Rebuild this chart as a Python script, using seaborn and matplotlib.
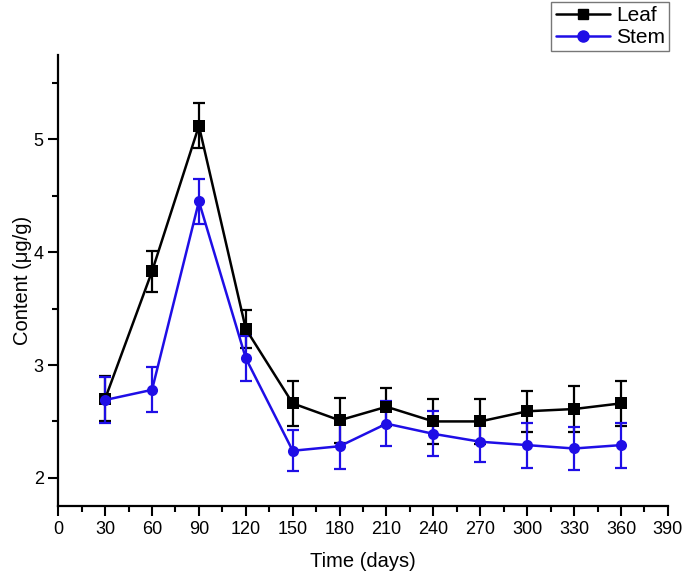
import matplotlib
matplotlib.use("Agg")
import matplotlib.pyplot as plt
import seaborn as sns
import pandas as pd
import numpy as np
from matplotlib.ticker import MultipleLocator
from matplotlib.lines import Line2D

days = [30, 60, 90, 120, 150, 180, 210, 240, 270, 300, 330, 360]
leaf = [2.70, 3.83, 5.12, 3.32, 2.66, 2.51, 2.63, 2.50, 2.50, 2.59, 2.61, 2.66]
leaf_err = [0.20, 0.18, 0.20, 0.17, 0.20, 0.20, 0.17, 0.20, 0.20, 0.18, 0.20, 0.20]
stem = [2.69, 2.78, 4.45, 3.06, 2.24, 2.28, 2.48, 2.39, 2.32, 2.29, 2.26, 2.29]
stem_err = [0.20, 0.20, 0.20, 0.20, 0.18, 0.20, 0.20, 0.20, 0.18, 0.20, 0.19, 0.20]

sns.set_theme(style="ticks")
plt.rcParams["font.family"] = ["Liberation Sans", "DejaVu Sans"]
plt.rcParams["text.color"] = "black"
plt.rcParams["axes.labelcolor"] = "black"
plt.rcParams["xtick.color"] = "black"
plt.rcParams["ytick.color"] = "black"

df = pd.DataFrame({
    "day": days * 2,
    "value": leaf + stem,
    "tissue": ["Leaf"] * len(days) + ["Stem"] * len(days),
})

colors = {"Leaf": "black", "Stem": "#1f0ee6"}

fig = plt.figure(figsize=(6.85, 5.77), dpi=100)
ax = fig.add_axes([0.085, 0.123, 0.890, 0.782])

for name, vals, errs in [("Leaf", leaf, leaf_err), ("Stem", stem, stem_err)]:
    ax.errorbar(days, vals, yerr=errs, fmt="none", ecolor=colors[name],
                elinewidth=1.6, capsize=4, capthick=1.6, zorder=2)

sns.lineplot(data=df, x="day", y="value", hue="tissue", style="tissue",
             markers={"Leaf": "s", "Stem": "o"}, dashes=False,
             palette=colors, markersize=8, markeredgewidth=0,
             linewidth=1.8, ax=ax, legend=False, zorder=3)

ax.set_xlim(0, 390)
ax.set_ylim(1.75, 5.75)
ax.xaxis.set_major_locator(MultipleLocator(30))
ax.xaxis.set_minor_locator(MultipleLocator(15))
ax.yaxis.set_major_locator(MultipleLocator(1))
ax.yaxis.set_minor_locator(MultipleLocator(0.5))
ax.tick_params(which="major", length=7, width=1.5, labelsize=13, direction="out")
ax.tick_params(which="minor", length=4, width=1.5, direction="out")
sns.despine(ax=ax)
for s in ["left", "bottom"]:
    ax.spines[s].set_linewidth(1.6)
    ax.spines[s].set_color("black")

ax.set_xlabel("Time (days)", fontsize=14.5, labelpad=10)
ax.set_ylabel("Content (\u03bcg/g)", fontsize=14.5)
ax.yaxis.set_label_coords(-0.043, 0.5)

handles = [Line2D([], [], color="black", marker="s", markersize=7, linewidth=1.8),
           Line2D([], [], color=colors["Stem"], marker="o", markersize=8, linewidth=1.8)]
leg = fig.legend(handles, ["Leaf", "Stem"], loc="upper right",
                 bbox_to_anchor=(0.977, 0.997), fontsize=15, frameon=True,
                 fancybox=False, framealpha=1, edgecolor="#777777",
                 handlelength=2.6, handletextpad=0.3, borderpad=0.2,
                 labelspacing=0.15, borderaxespad=0)
leg.get_frame().set_linewidth(1.0)

fig.savefig("out.png", dpi=100)
